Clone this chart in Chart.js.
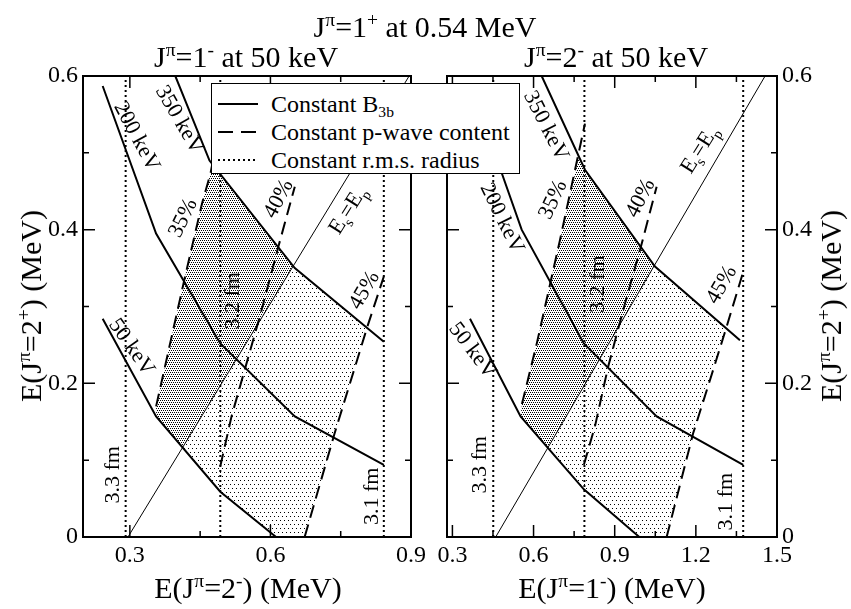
<!DOCTYPE html>
<html>
<head>
<meta charset="utf-8">
<script src="https://cdn.jsdelivr.net/npm/chart.js@4.4.0/dist/chart.umd.min.js"></script>
<style>
  body { margin: 0; background: #fff; }
  #wrap { position: relative; width: 851px; height: 609px; font-family: "Liberation Serif", "Times New Roman", Times, "DejaVu Serif", serif; color: #000; overflow: hidden; }
  canvas { position: absolute; top: 0; }
  .txt { position: absolute; white-space: nowrap; font-size: 30px; line-height: 30px; }
  .center { transform: translateX(-50%); }
  .vert { transform: translate(-50%, -50%) rotate(-90deg); }
  .sup { position: relative; top: -0.55em; font-size: 0.65em; }
  #legend { position: absolute; left: 211px; top: 83px; width: 309px; height: 91px; box-sizing: border-box;
            border: 1px solid #000; background: #fff; font-size: 24px; line-height: 24px; }
  #legend .row { position: absolute; left: 0; height: 24px; }
  #legend svg { position: absolute; left: 6px; top: 0; }
  #legend span.lab { position: absolute; left: 59px; top: 0; white-space: nowrap; }
  .sub { position: relative; top: 0.35em; font-size: 0.65em; }
</style>
</head>
<body>
<div id="wrap">
  <canvas id="leftPanel" width="430" height="609" style="left:0"></canvas>
  <canvas id="rightPanel" width="421" height="609" style="left:430px"></canvas>

  <div class="txt center" style="left:425px; top:12px">J<span class="sup">π</span>=1<span class="sup">+</span> at 0.54 MeV</div>
  <div class="txt center" style="left:246px; top:42px">J<span class="sup">π</span>=1<span class="sup">-</span> at 50 keV</div>
  <div class="txt center" style="left:616px; top:42px">J<span class="sup">π</span>=2<span class="sup">-</span> at 50 keV</div>
  <div class="txt center" style="left:248px; top:573px">E(J<span class="sup">π</span>=2<span class="sup">-</span>) (MeV)</div>
  <div class="txt center" style="left:612px; top:573px">E(J<span class="sup">π</span>=1<span class="sup">-</span>) (MeV)</div>
  <div class="txt vert" style="left:33px; top:306px">E(J<span class="sup">π</span>=2<span class="sup">+</span>) (MeV)</div>
  <div class="txt vert" style="left:833px; top:306px">E(J<span class="sup">π</span>=2<span class="sup">+</span>) (MeV)</div>

  <div id="legend">
    <div class="row" style="top:8px">
      <svg width="42" height="24"><line x1="0" y1="12" x2="40" y2="12" stroke="#000" stroke-width="2"/></svg>
      <span class="lab">Constant B<span class="sub">3b</span></span>
    </div>
    <div class="row" style="top:36px">
      <svg width="42" height="24"><line x1="0" y1="12" x2="40" y2="12" stroke="#000" stroke-width="2" stroke-dasharray="15,8"/></svg>
      <span class="lab">Constant p-wave content</span>
    </div>
    <div class="row" style="top:64px">
      <svg width="42" height="24"><line x1="0" y1="12" x2="40" y2="12" stroke="#000" stroke-width="2" stroke-dasharray="2,3"/></svg>
      <span class="lab">Constant r.m.s. radius</span>
    </div>
  </div>
</div>

<script>
// Axis ranges and ticks
const yRange = [0, 0.6];
const yTicks = [0, 0.2, 0.4, 0.6];
const yMinorTicks = [0.1, 0.3, 0.5];
const leftXRange = [0.2, 0.9];
const leftXTicks = [0.3, 0.6, 0.9];
const leftXMinorTicks = [0.45, 0.75];
const rightXRange = [0.28, 1.5];
const rightXTicks = [0.3, 0.6, 0.9, 1.2, 1.5];
const rightXMinorTicks = [0.45, 0.75, 1.05, 1.35];

// Left panel (x = E(2-)), constant B3b curves
const left50keV = [[0.242, 0.284], [0.356, 0.157], [0.493, 0.059], [0.612, 0]];
const left200keV = [[0.242, 0.587], [0.356, 0.395], [0.493, 0.252], [0.652, 0.157], [0.842, 0.094]];
const left350keV = [[0.397, 0.6], [0.47, 0.49], [0.652, 0.350], [0.842, 0.254]];
// constant p-wave content
const left35 = [[0.356, 0.170], [0.416, 0.334], [0.454, 0.434], [0.472, 0.473], [0.493, 0.538]];
const left40 = [[0.493, 0.092], [0.517, 0.157], [0.581, 0.295], [0.617, 0.378], [0.652, 0.456]];
const left45 = [[0.673, 0], [0.737, 0.135], [0.807, 0.274], [0.842, 0.339]];
// Es = Ep and constant radius (3.3, 3.2, 3.1 fm)
const leftEsEp = [[0.296, 0], [0.896, 0.6]];
const leftRadius = [0.291, 0.493, 0.842];
// shaded regions
const leftDense = [[0.356, 0.170], [0.416, 0.334], [0.454, 0.434], [0.477, 0.484], [0.649, 0.353], [0.4125, 0.1165], [0.356, 0.157]];
const leftLight = [[0.649, 0.353], [0.652, 0.350], [0.807, 0.272], [0.737, 0.135], [0.673, 0], [0.612, 0], [0.493, 0.059], [0.4125, 0.1165]];

// Right panel (x = E(1-))
const right50keV = [[0.365, 0.284], [0.552, 0.157], [0.786, 0.062], [0.991, 0]];
const right200keV = [[0.369, 0.587], [0.556, 0.400], [0.786, 0.252], [1.055, 0.157], [1.375, 0.094]];
const right350keV = [[0.630, 0.6], [0.790, 0.478], [1.049, 0.352], [1.363, 0.256]];
const right35 = [[0.557, 0.173], [0.612, 0.252], [0.698, 0.387], [0.790, 0.538]];
const right40 = [[0.786, 0.094], [0.827, 0.144], [0.876, 0.222], [0.935, 0.300], [1.0, 0.382], [1.055, 0.456]];
const right45 = [[1.092, 0], [1.19, 0.135], [1.252, 0.204], [1.314, 0.274], [1.375, 0.345]];
const rightEsEp = [[0.46, 0], [1.456, 0.6]];
const rightRadius = [0.451, 0.788, 1.375];
const rightDense = [[0.557, 0.173], [0.612, 0.252], [0.698, 0.387], [0.767, 0.495], [0.790, 0.478], [1.046, 0.353], [0.653, 0.116], [0.552, 0.157]];
const rightLight = [[1.046, 0.353], [1.049, 0.352], [1.312, 0.271], [1.252, 0.204], [1.19, 0.135], [1.092, 0], [0.991, 0], [0.786, 0.062], [0.653, 0.116]];

// Curve labels
const leftLabels = [
  { parts: [['200 keV']], x: 0.314, y: 0.521, angle: 62 },
  { parts: [['350 keV']], x: 0.405, y: 0.543, angle: 60 },
  { parts: [['35%']], x: 0.414, y: 0.415, angle: -64 },
  { parts: [['40%']], x: 0.618, y: 0.440, angle: -62 },
  { parts: [['E'], ['s', 1], ['=E'], ['p', 1]], x: 0.766, y: 0.425, angle: -58 },
  { parts: [['3.2 fm']], x: 0.5215, y: 0.3075, angle: -90 },
  { parts: [['45%']], x: 0.801, y: 0.321, angle: -60 },
  { parts: [['50 keV']], x: 0.303, y: 0.247, angle: 55 },
  { parts: [['3.3 fm']], x: 0.264, y: 0.081, angle: -90 },
  { parts: [['3.1 fm']], x: 0.8175, y: 0.053, angle: -90 }
];
const rightLabels = [
  { parts: [['350 keV']], x: 0.645, y: 0.535, angle: 63 },
  { parts: [['200 keV']], x: 0.482, y: 0.415, angle: 64 },
  { parts: [['35%']], x: 0.673, y: 0.439, angle: -65 },
  { parts: [['40%']], x: 0.996, y: 0.441, angle: -63 },
  { parts: [['E'], ['s', 1], ['=E'], ['p', 1]], x: 1.215, y: 0.504, angle: -58 },
  { parts: [['3.2 fm']], x: 0.839, y: 0.329, angle: -90 },
  { parts: [['45%']], x: 1.296, y: 0.328, angle: -60 },
  { parts: [['50 keV']], x: 0.3735, y: 0.2425, angle: 53 },
  { parts: [['3.3 fm']], x: 0.402, y: 0.094, angle: -90 },
  { parts: [['3.1 fm']], x: 1.314, y: 0.046, angle: -90 }
];

const FONT = '"Liberation Serif", "Times New Roman", Times, "DejaVu Serif", serif';
const pts = arr => arr.map(([x, y]) => ({ x, y }));

function dotPattern(size, dots) {
  const c = document.createElement('canvas');
  c.width = size;
  c.height = size;
  const g = c.getContext('2d');
  g.fillStyle = '#000';
  dots.forEach(([x, y]) => g.fillRect(x, y, 1, 1));
  return g.createPattern(c, 'repeat');
}
const densePattern = dotPattern(4, [[0, 0], [2, 0], [1, 2], [3, 2]]);
const lightPattern = dotPattern(8, [[0, 0], [4, 0], [2, 4], [6, 4]]);

function lineSet(data, width, dash) {
  return {
    data: pts(data),
    showLine: true,
    borderColor: '#000',
    borderWidth: width,
    borderDash: dash || [],
    pointRadius: 0,
    fill: false,
    tension: 0
  };
}
function shadeSet(data, pattern) {
  return {
    data: pts(data),
    showLine: true,
    borderColor: 'rgba(0,0,0,0)',
    borderWidth: 0,
    pointRadius: 0,
    fill: 'shape',
    backgroundColor: pattern,
    tension: 0
  };
}
function radiusSet(x) {
  return lineSet([[x, yRange[0]], [x, yRange[1]]], 2, [2, 3]);
}

// frame with inward major/minor ticks on all four sides
function framePlugin(xMajor, xMinor) {
  return {
    id: 'frame',
    afterDatasetsDraw(chart) {
      const { ctx, chartArea: a, scales: { x, y } } = chart;
      ctx.save();
      ctx.strokeStyle = '#000';
      ctx.lineWidth = 1.5;
      ctx.beginPath();
      const xt = (v, len) => {
        const px = x.getPixelForValue(v);
        ctx.moveTo(px, a.bottom); ctx.lineTo(px, a.bottom - len);
        ctx.moveTo(px, a.top); ctx.lineTo(px, a.top + len);
      };
      const yt = (v, len) => {
        const py = y.getPixelForValue(v);
        ctx.moveTo(a.left, py); ctx.lineTo(a.left + len, py);
        ctx.moveTo(a.right, py); ctx.lineTo(a.right - len, py);
      };
      xMajor.forEach(v => xt(v, 12));
      xMinor.forEach(v => xt(v, 6));
      yTicks.forEach(v => yt(v, 12));
      yMinorTicks.forEach(v => yt(v, 6));
      ctx.stroke();
      ctx.lineWidth = 2;
      ctx.strokeRect(a.left, a.top, a.right - a.left, a.bottom - a.top);
      ctx.restore();
    }
  };
}

function labelPlugin(labels) {
  return {
    id: 'curveLabels',
    afterDatasetsDraw(chart) {
      const { ctx, scales: { x, y } } = chart;
      const size = 22;
      labels.forEach(l => {
        ctx.save();
        ctx.translate(x.getPixelForValue(l.x), y.getPixelForValue(l.y));
        ctx.rotate(l.angle * Math.PI / 180);
        ctx.fillStyle = '#000';
        ctx.textBaseline = 'middle';
        ctx.textAlign = 'left';
        const widths = l.parts.map(([t, sub]) => {
          ctx.font = (sub ? size * 0.65 : size) + 'px ' + FONT;
          return ctx.measureText(t).width;
        });
        let cx = -widths.reduce((s, w) => s + w, 0) / 2;
        l.parts.forEach(([t, sub], i) => {
          ctx.font = (sub ? size * 0.65 : size) + 'px ' + FONT;
          ctx.fillText(t, cx, sub ? size * 0.35 : 0);
          cx += widths[i];
        });
        ctx.restore();
      });
    }
  };
}

function makePanel(id, p) {
  return new Chart(document.getElementById(id), {
    type: 'scatter',
    data: {
      datasets: [
        lineSet(p.b50, 2),
        lineSet(p.b200, 2),
        lineSet(p.b350, 2),
        lineSet(p.w35, 2, [13, 7]),
        lineSet(p.w40, 2, [13, 7]),
        lineSet(p.w45, 2, [13, 7]),
        lineSet(p.esep, 1),
        ...p.radius.map(radiusSet),
        shadeSet(p.dense, densePattern),
        shadeSet(p.light, lightPattern)
      ]
    },
    options: {
      responsive: false,
      animation: false,
      layout: { padding: p.padding },
      plugins: { legend: { display: false }, tooltip: { enabled: false } },
      scales: {
        x: {
          type: 'linear',
          position: 'bottom',
          min: p.xRange[0],
          max: p.xRange[1],
          grid: { display: false, drawTicks: false },
          border: { display: false },
          afterBuildTicks: s => { s.ticks = p.xTicks.map(v => ({ value: v })); },
          afterFit: s => { s.height = 72; },
          ticks: {
            autoSkip: false,
            maxRotation: 0,
            padding: 4,
            color: '#000',
            font: { family: FONT, size: 24 },
            callback: v => v.toFixed(1)
          }
        },
        y: {
          type: 'linear',
          position: p.yPos,
          min: yRange[0],
          max: yRange[1],
          grid: { display: false, drawTicks: false },
          border: { display: false },
          afterBuildTicks: s => { s.ticks = yTicks.map(v => ({ value: v })); },
          afterFit: s => { s.width = p.yWidth; },
          ticks: {
            padding: 5,
            color: '#000',
            font: { family: FONT, size: 24 },
            callback: v => (v === 0 ? '0' : v.toFixed(1))
          }
        }
      }
    },
    plugins: [framePlugin(p.xTicks, p.xMinor), labelPlugin(p.labels)]
  });
}

const leftChart = makePanel('leftPanel', {
  b50: left50keV, b200: left200keV, b350: left350keV,
  w35: left35, w40: left40, w45: left45,
  esep: leftEsEp, radius: leftRadius, dense: leftDense, light: leftLight,
  xRange: leftXRange, xTicks: leftXTicks, xMinor: leftXMinorTicks,
  labels: leftLabels, yPos: 'left', yWidth: 83,
  padding: { left: 0, top: 76, right: 16, bottom: 0 }
});

const rightChart = makePanel('rightPanel', {
  b50: right50keV, b200: right200keV, b350: right350keV,
  w35: right35, w40: right40, w45: right45,
  esep: rightEsEp, radius: rightRadius, dense: rightDense, light: rightLight,
  xRange: rightXRange, xTicks: rightXTicks, xMinor: rightXMinorTicks,
  labels: rightLabels, yPos: 'right', yWidth: 74,
  padding: { left: 17, top: 76, right: 0, bottom: 0 }
});
</script>
</body>
</html>
